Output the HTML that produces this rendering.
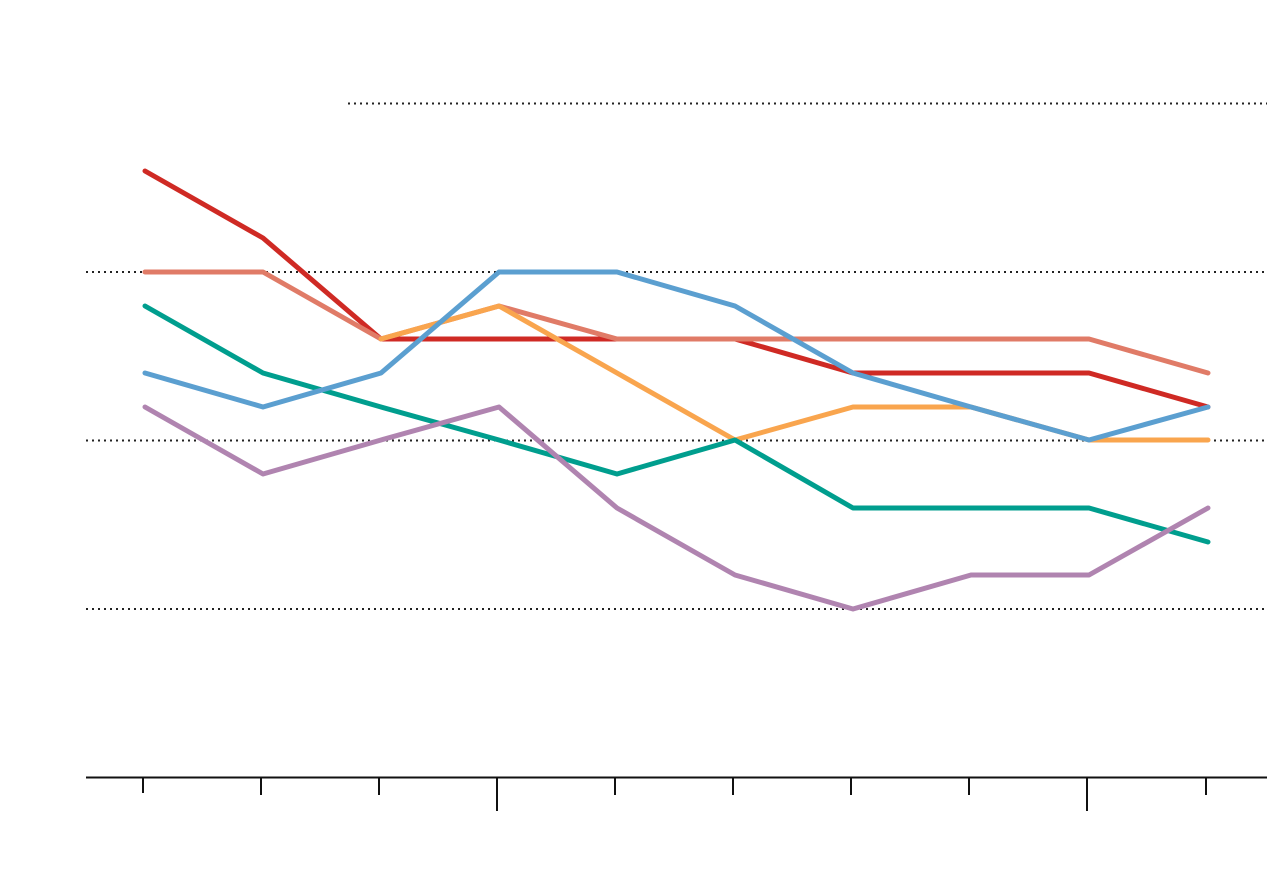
<!DOCTYPE html>
<html><head><meta charset="utf-8"><style>html,body{margin:0;padding:0;background:#fff}svg{display:block}</style></head>
<body>
<svg width="1280" height="878" viewBox="0 0 1280 878" xmlns="http://www.w3.org/2000/svg">
<g stroke="#222" stroke-width="2" stroke-dasharray="2,4">
<line x1="348" y1="103.5" x2="1267" y2="103.5"/>
<line x1="86" y1="272" x2="1267" y2="272"/>
<line x1="86" y1="440.5" x2="1267" y2="440.5"/>
<line x1="86" y1="609" x2="1267" y2="609"/>
</g>
<g stroke="#111" stroke-width="2">
<line x1="86" y1="777.5" x2="1267" y2="777.5"/>
<line x1="143" y1="777" x2="143" y2="793"/>
<line x1="261" y1="777" x2="261" y2="795"/>
<line x1="379" y1="777" x2="379" y2="795"/>
<line x1="497" y1="777" x2="497" y2="811"/>
<line x1="615" y1="777" x2="615" y2="795"/>
<line x1="733" y1="777" x2="733" y2="795"/>
<line x1="851" y1="777" x2="851" y2="795"/>
<line x1="969" y1="777" x2="969" y2="795"/>
<line x1="1087" y1="777" x2="1087" y2="811"/>
<line x1="1206" y1="777" x2="1206" y2="795"/>
</g>
<g fill="none" stroke-width="5" stroke-linecap="round" stroke-linejoin="round">
<polyline stroke="#cf2a24" points="145,171 263,238 381,339 499,339 617,339 735,339 853,373 971,373 1089,373 1208,407"/>
<polyline stroke="#e07b67" points="145,272 263,272 381,339 499,306 617,339 735,339 853,339 971,339 1089,339 1208,373"/>
<polyline stroke="#f9a54e" points="381,339 499,306 617,373 735,440 853,407 971,407 1089,440 1208,440"/>
<polyline stroke="#009e8e" points="145,306 263,373 381,407 499,440 617,474 735,440 853,508 971,508 1089,508 1208,542"/>
<polyline stroke="#b084b0" points="145,407 263,474 381,440 499,407 617,508 735,575 853,609 971,575 1089,575 1208,508"/>
<polyline stroke="#5b9fd0" points="145,373 263,407 381,373 499,272 617,272 735,306 853,373 971,407 1089,440 1208,407"/>
</g>
</svg>
</body></html>
